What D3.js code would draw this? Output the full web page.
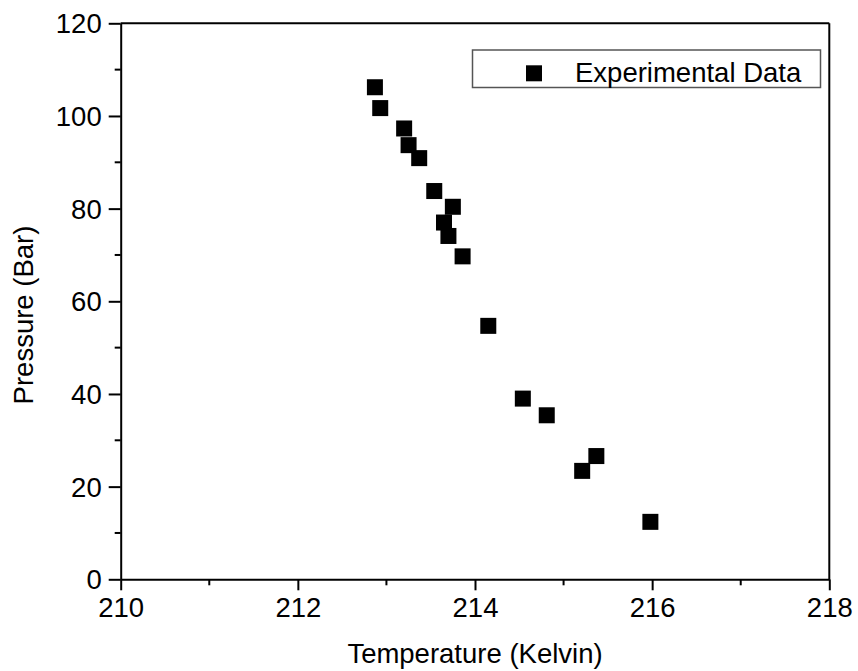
<!DOCTYPE html>
<html><head><meta charset="utf-8">
<script src="https://cdn.jsdelivr.net/npm/d3@7"></script>
<style>body{margin:0;background:#fff}svg{display:block;font-family:"Liberation Sans",Arial,sans-serif}</style>
</head><body>
<svg id="c" width="858" height="671"></svg>
<script>
const temperature = [212.87,212.93,213.20,213.25,213.37,213.54,213.75,213.65,213.70,213.86,214.15,214.54,214.81,215.37,215.21,215.98];
const pressure    = [106.2,101.7,97.3,93.7,90.9,83.8,80.4,77.0,74.1,69.7,54.7,39.0,35.4,26.6,23.4,12.4];
const xTicks = [210,212,214,216,218];
const xMinor = [211,213,215,217];
const yTicks = [0,20,40,60,80,100,120];
const yMinor = [10,30,50,70,90,110];
const seriesName = "Experimental Data";

const svg = d3.select("#c");
const L=120.7, R=829.3, T=23.3, B=579.3;
const x = d3.scaleLinear().domain([210,218]).range([L,R]);
const y = d3.scaleLinear().domain([0,120]).range([B,T]);
const fs = 27.5;

// frame top & right
svg.append("line").attr("x1",L).attr("x2",R).attr("y1",T).attr("y2",T).attr("stroke","#000").attr("stroke-width",2);
svg.append("line").attr("x1",R).attr("x2",R).attr("y1",T).attr("y2",B).attr("stroke","#000").attr("stroke-width",2);

// x axis
const gx = svg.append("g").attr("transform",`translate(0,${B})`)
  .call(d3.axisBottom(x).tickValues(xTicks).tickFormat(d3.format("d")).tickSize(11).tickSizeOuter(0).tickPadding(7));
gx.selectAll("text").attr("font-size",fs).attr("fill","#000").attr("font-family","Liberation Sans, Arial, sans-serif");
gx.append("g").selectAll("line").data(xMinor).join("line")
  .attr("x1",d=>x(d)).attr("x2",d=>x(d)).attr("y1",0).attr("y2",6).attr("stroke","#000").attr("stroke-width",2);
// y axis
const gy = svg.append("g").attr("transform",`translate(${L},0)`)
  .call(d3.axisLeft(y).tickValues(yTicks).tickFormat(d3.format("d")).tickSize(12).tickSizeOuter(0).tickPadding(7));
gy.selectAll("text").attr("font-size",fs).attr("fill","#000").attr("dy","0.35em").attr("font-family","Liberation Sans, Arial, sans-serif");
gy.append("g").selectAll("line").data(yMinor).join("line")
  .attr("x1",0).attr("x2",-6).attr("y1",d=>y(d)).attr("y2",d=>y(d)).attr("stroke","#000").attr("stroke-width",2);
svg.selectAll(".domain, .tick line").attr("stroke","#000").attr("stroke-width",2);

// titles
svg.append("text").attr("x",(L+R)/2).attr("y",663).attr("text-anchor","middle").attr("font-size",fs).attr("fill","#000").text("Temperature (Kelvin)");
svg.append("text").attr("transform",`translate(33,315) rotate(-90)`).attr("text-anchor","middle").attr("font-size",fs).attr("fill","#000").text("Pressure (Bar)");

// points
const s=16;
svg.append("g").selectAll("rect").data(temperature.map((t,i)=>[t,pressure[i]])).join("rect")
  .attr("x",d=>x(d[0])-s/2).attr("y",d=>y(d[1])-s/2).attr("width",s).attr("height",s)
  .attr("fill","#000");

// legend
svg.append("rect").attr("x",472.5).attr("y",50).attr("width",348).attr("height",37.5)
  .attr("fill","#fff").attr("stroke","#555").attr("stroke-width",1.5);
svg.append("rect").attr("x",534-s/2).attr("y",73.3-s/2).attr("width",s).attr("height",s).attr("fill","#000");
svg.append("text").attr("x",575).attr("y",82).attr("font-size",fs).attr("fill","#000").text(seriesName);
</script>
</body></html>
